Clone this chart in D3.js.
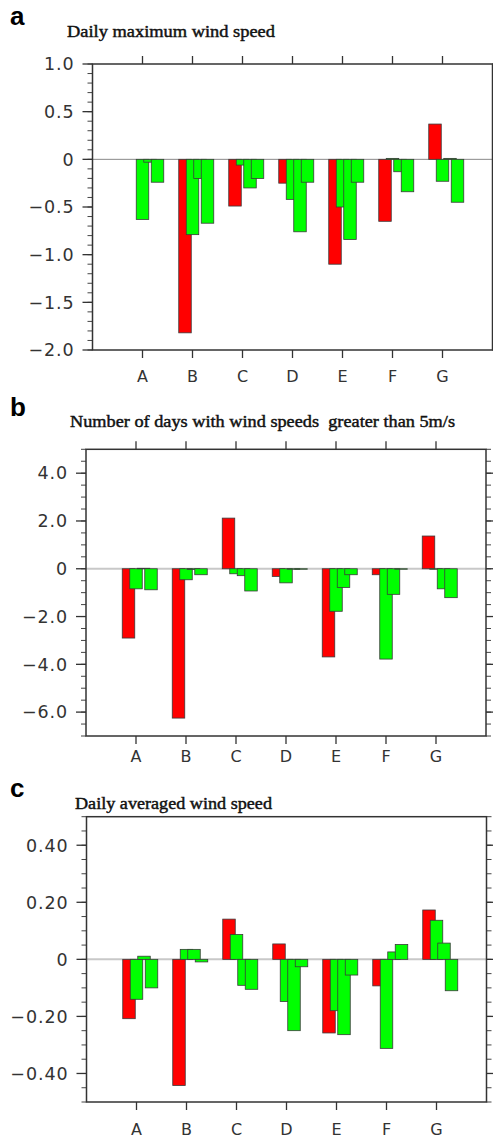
<!DOCTYPE html>
<html>
<head>
<meta charset="utf-8">
<script src="https://cdn.jsdelivr.net/npm/d3@7"></script>
<style>
  body { margin: 0; background: #fff; }
</style>
</head>
<body>
<svg id="chart" width="493" height="1138"></svg>
<script>
var categories = ["A", "B", "C", "D", "E", "F", "G"];

// a: daily maximum wind speed
var maxRed    = [0, -1.82, -0.49, -0.25, -1.10, -0.65, 0.37];
var maxGreen1 = [-0.63, -0.79, -0.06, -0.42, -0.50, 0.01, -0.23];
var maxGreen2 = [-0.03, -0.20, -0.30, -0.76, -0.84, -0.13, 0.01];
var maxGreen3 = [-0.24, -0.67, -0.20, -0.24, -0.24, -0.34, -0.45];

// b: number of days with wind speed > 5 m/s
var daysRed    = [-2.90, -6.25, 2.12, -0.32, -3.69, -0.25, 1.37];
var daysGreen1 = [-0.84, -0.46, -0.21, -0.59, -1.78, -3.78, -0.02];
var daysGreen2 = [0.02, -0.03, -0.29, -0.02, -0.78, -1.07, -0.84];
var daysGreen3 = [-0.88, -0.25, -0.93, -0.02, -0.25, -0.02, -1.21];

// c: daily averaged wind speed
var avgRed    = [-0.208, -0.442, 0.141, 0.054, -0.258, -0.093, 0.173];
var avgGreen1 = [-0.140, 0.035, 0.087, -0.148, -0.180, -0.312, 0.137];
var avgGreen2 = [0.011, 0.035, -0.091, -0.250, -0.264, 0.026, 0.057];
var avgGreen3 = [-0.100, -0.009, -0.105, -0.026, -0.055, 0.052, -0.110];

var maxTicks  = [-2.0, -1.5, -1.0, -0.5, 0, 0.5, 1.0];
var daysTicks = [-6, -4, -2, 0, 2, 4];
var avgTicks  = [-0.4, -0.2, 0, 0.2, 0.4];

var barColors = ["#ff0000", "#00ff00", "#00ff00", "#00ff00"];
var barOffsets = [-0.15, 0, 0.15, 0.3];
var barWidth = 0.25;

var panels = [
  { letter: "a", letterY: 25, title: "Daily maximum wind speed", titleX: 67, titleY: 37, titleW: 208,
    series: [maxRed, maxGreen1, maxGreen2, maxGreen3], ticks: maxTicks, digits: 1,
    domain: [-2, 1], minor: 0.1, left: 92.5, top: 64, height: 286, labelY: 382,
    topTicks: true, zeroColor: "#888", zeroWidth: 1 },
  { letter: "b", letterY: 416, title: "Number of days with wind speeds  greater than 5m/s", titleX: 70, titleY: 427, titleW: 385,
    series: [daysRed, daysGreen1, daysGreen2, daysGreen3], ticks: daysTicks, digits: 1,
    domain: [-7, 5], minor: 0.5, left: 86, top: 449.3, height: 286.7, labelY: 762,
    topTicks: true, zeroColor: "#c8c8c8", zeroWidth: 2 },
  { letter: "c", letterY: 797, title: "Daily averaged wind speed", titleX: 75, titleY: 809, titleW: 197,
    series: [avgRed, avgGreen1, avgGreen2, avgGreen3], ticks: avgTicks, digits: 2,
    domain: [-0.5, 0.5], minor: 0.05, left: 86.5, top: 816.7, height: 285.3, labelY: 1135,
    topTicks: false, zeroColor: "#c8c8c8", zeroWidth: 2 }
];

var svg = d3.select("#chart");

function fmt(v, digits) {
  if (v === 0) return "0";
  return (v < 0 ? "\u2212" : "") + Math.abs(v).toFixed(digits);
}

panels.forEach(function(p) {
  var width = 400;
  var x = d3.scaleLinear().domain([0, 8]).range([p.left, p.left + width]);
  var y = d3.scaleLinear().domain(p.domain).range([p.top + p.height, p.top]);
  var right = p.left + width, bottom = p.top + p.height;
  var g = svg.append("g");

  // panel letter and title
  g.append("text")
      .attr("x", 10).attr("y", p.letterY)
      .style("font-family", "Liberation Sans, Arial, sans-serif")
      .style("font-weight", "bold").style("font-size", "26px")
      .text(p.letter);
  g.append("text")
      .attr("x", p.titleX).attr("y", p.titleY)
      .attr("textLength", p.titleW).attr("lengthAdjust", "spacingAndGlyphs")
      .style("white-space", "pre")
      .style("font-family", "Liberation Serif, serif").style("font-size", "17px")
      .style("fill", "#111").style("stroke", "#111").style("stroke-width", 0.45)
      .text(p.title);

  // zero line
  g.append("line")
      .attr("x1", p.left).attr("x2", right)
      .attr("y1", y(0)).attr("y2", y(0))
      .style("stroke", p.zeroColor).style("stroke-width", p.zeroWidth);

  // bars
  categories.forEach(function(c, i) {
    p.series.forEach(function(vals, s) {
      var v = vals[i];
      var cx = x(i + 1 + barOffsets[s]);
      var bw = x(barWidth) - x(0);
      g.append("rect")
          .attr("x", cx - bw / 2)
          .attr("width", bw)
          .attr("y", y(Math.max(0, v)))
          .attr("height", Math.abs(y(v) - y(0)))
          .style("fill", barColors[s])
          .style("stroke", "#3a3a3a").style("stroke-width", 0.8);
    });
  });

  // minor ticks left and right
  var minors = d3.range(p.domain[0], p.domain[1] + p.minor / 2, p.minor);
  minors.forEach(function(m) {
    var yy = y(m);
    g.append("line").attr("x1", p.left - 5).attr("x2", p.left).attr("y1", yy).attr("y2", yy)
        .style("stroke", "#444").style("stroke-width", 1);
    g.append("line").attr("x1", right).attr("x2", right + 5).attr("y1", yy).attr("y2", yy)
        .style("stroke", "#444").style("stroke-width", 1);
  });

  // major y ticks and labels
  p.ticks.forEach(function(t) {
    var yy = y(t);
    g.append("line").attr("x1", p.left - 10).attr("x2", p.left).attr("y1", yy).attr("y2", yy)
        .style("stroke", "#333").style("stroke-width", 1.3);
    g.append("line").attr("x1", right).attr("x2", right + 10).attr("y1", yy).attr("y2", yy)
        .style("stroke", "#333").style("stroke-width", 1.3);
    g.append("text")
        .attr("x", p.left - 18).attr("y", yy).attr("dy", "0.36em")
        .attr("text-anchor", "end")
        .style("font-family", "DejaVu Sans, sans-serif").style("font-size", "17.5px")
        .style("letter-spacing", "0.9px").style("fill", "#333")
        .text(fmt(t, p.digits));
  });

  // x ticks and labels
  categories.forEach(function(c, i) {
    var xx = x(i + 1);
    g.append("line").attr("x1", xx).attr("x2", xx).attr("y1", bottom).attr("y2", bottom + 8)
        .style("stroke", "#333").style("stroke-width", 1.3);
    if (p.topTicks) {
      g.append("line").attr("x1", xx).attr("x2", xx).attr("y1", p.top).attr("y2", p.top - 8)
          .style("stroke", "#333").style("stroke-width", 1.3);
    }
    g.append("text")
        .attr("x", xx).attr("y", p.labelY)
        .attr("text-anchor", "middle")
        .style("font-family", "DejaVu Sans, sans-serif").style("font-size", "16px")
        .style("fill", "#333")
        .text(c);
  });

  // frame
  g.append("rect")
      .attr("x", p.left).attr("y", p.top)
      .attr("width", width).attr("height", p.height)
      .style("fill", "none").style("stroke", "#333").style("stroke-width", 1.5);
});
</script>
</body>
</html>
